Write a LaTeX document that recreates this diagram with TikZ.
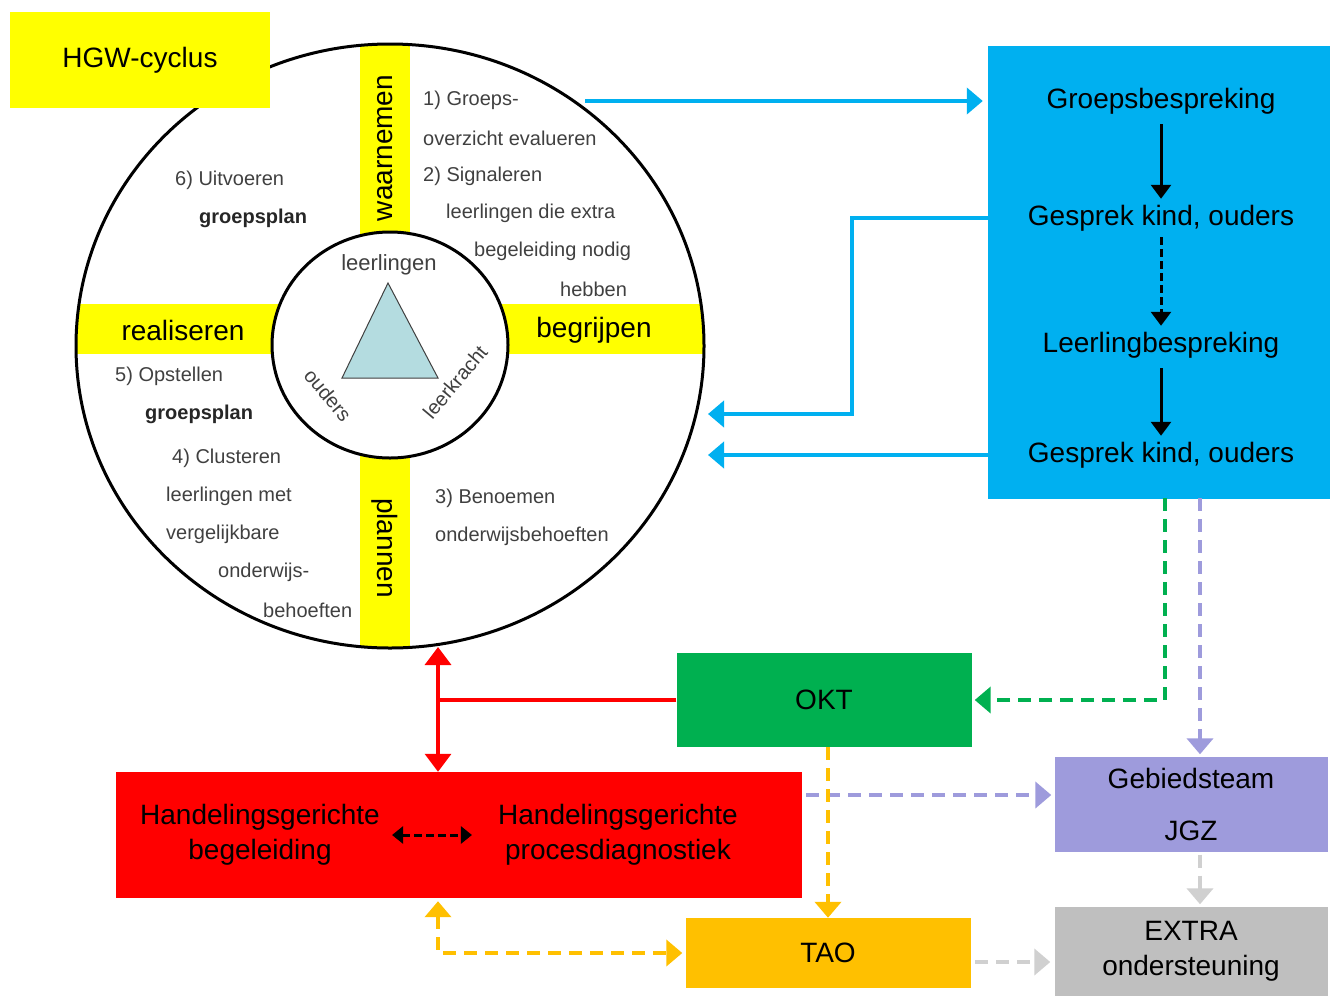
\documentclass[tikz,border=0pt]{standalone}
\usepackage{fontspec}
\setmainfont{Liberation Sans}
\usepackage{tikz}
\usepackage{xcolor}
\usetikzlibrary{arrows.meta, shapes.geometric, positioning}
\definecolor{HGWYellow}{HTML}{FFFF00}
\definecolor{HGWBlue}{HTML}{00B0F0}
\definecolor{HGWGreen}{HTML}{00B050}
\definecolor{HGWRed}{HTML}{FF0000}
\definecolor{HGWOrange}{HTML}{FFC000}
\definecolor{HGWLilac}{HTML}{9E9BDC}
\definecolor{HGWGrey}{HTML}{BFBFBF}
\definecolor{HGWLightGrey}{HTML}{D0D0D0}
\definecolor{HGWTriangle}{HTML}{B4DCE0}
\definecolor{HGWText}{HTML}{404040}

\begin{document}
\begin{tikzpicture}[x=1pt, y=-1pt,
    box/.style={rectangle, inner sep=0pt, align=center, font=\fontsize{28}{35}\selectfont},
    boxtext/.style={inner sep=6pt, align=center, font=\fontsize{28}{35}\selectfont},
    bandtext/.style={inner sep=0pt, font=\fontsize{28}{34}\selectfont},
    ringtext/.style={anchor=west, inner sep=0pt, text=HGWText, font=\fontsize{20}{24}\selectfont},
    bluearrow/.style={HGWBlue, line width=4pt, -{Triangle[length=16pt, width=26pt]}},
    stepline/.style={black, line width=3pt, -{Triangle[length=14pt, width=20pt]}},
    redline/.style={HGWRed, line width=3.5pt},
    dashflow/.style={line width=4pt, dash pattern=on 13pt off 8pt, -{Triangle[length=16pt, width=26pt]}}]

    \useasboundingbox (0,0) rectangle (1332,996);

    % HGW cycle
    \begin{scope}
        \clip (390,346) ellipse [x radius=314pt, y radius=302pt];
        \fill[HGWYellow] (360,0) rectangle (410,700);
        \fill[HGWYellow] (0,304) rectangle (720,354);
    \end{scope}
    \draw[line width=3pt] (390,346) ellipse [x radius=314pt, y radius=302pt];
    \filldraw[fill=white, line width=3pt] (390,345) ellipse [x radius=118pt, y radius=113pt];
    \filldraw[fill=HGWTriangle, draw=HGWText, line width=1pt] (388,283) -- (438,378) -- (342,378) -- cycle;

    \node[ringtext, anchor=center, font=\fontsize{22}{26}\selectfont] (pupils) at (389,265) {leerlingen};
    \node[ringtext, anchor=center, rotate=-50] (parents) at (328,395) {ouders};
    \node[ringtext, anchor=center, rotate=50] (teacher) at (455,382) {leerkracht};

    \node[bandtext, rotate=90] (observe) at (385,148) {waarnemen};
    \node[bandtext, rotate=-90] (plan) at (385,548) {plannen};
    \node[bandtext] (realise) at (183,330) {realiseren};
    \node[bandtext] (grasp) at (594,330) {begrijpen};

    \node[ringtext] (stepA) at (423,100) {1) Groeps-};
    \node[ringtext] (stepB) at (423,138) {overzicht evalueren};
    \node[ringtext] (stepC) at (423,176) {2) Signaleren};
    \node[ringtext] (stepD) at (446,213) {leerlingen die extra};
    \node[ringtext] (stepE) at (474,251) {begeleiding nodig};
    \node[ringtext] (stepF) at (560,289) {hebben};
    \node[ringtext] (stepG) at (435,498) {3) Benoemen};
    \node[ringtext] (stepH) at (435,536) {onderwijsbehoeften};
    \node[ringtext] (stepI) at (172,458) {4) Clusteren};
    \node[ringtext] (stepJ) at (166,496) {leerlingen met};
    \node[ringtext] (stepK) at (166,534) {vergelijkbare};
    \node[ringtext] (stepL) at (218,572) {onderwijs-};
    \node[ringtext] (stepM) at (263,610) {behoeften};
    \node[ringtext] (stepN) at (115,376) {5) Opstellen};
    \node[ringtext, text=black!85] (stepO) at (145,414) {\textbf{groepsplan}};
    \node[ringtext] (stepP) at (175,180) {6) Uitvoeren};
    \node[ringtext, text=black!85] (stepQ) at (199,218) {\textbf{groepsplan}};

    \node[box, fill=HGWYellow, minimum width=260pt, minimum height=96pt] (title) at (140,60) {HGW-cyclus};

    % talks
    \node[box, fill=HGWBlue, minimum width=342pt, minimum height=453pt] (talks) at (1159,272) {};
    \node[boxtext] (groeps) at (1161,101) {Groepsbespreking};
    \node[boxtext] (gesprekA) at (1161,218) {Gesprek kind, ouders};
    \node[boxtext] (leerbes) at (1161,345) {Leerlingbespreking};
    \node[boxtext] (gesprekB) at (1161,455) {Gesprek kind, ouders};
    \draw[stepline, shorten <=4pt] (groeps) -- (gesprekA);
    \draw[stepline, dash pattern=on 8pt off 4pt] (gesprekA) -- (leerbes);
    \draw[stepline, shorten <=4pt] (leerbes) -- (gesprekB);

    % support
    \node[box, fill=HGWGreen, minimum width=295pt, minimum height=94pt] (okt) at (824,700) {OKT};
    \node[box, fill=HGWRed, minimum width=686pt, minimum height=126pt] (hgw) at (459,835) {};
    \node[boxtext, inner sep=8pt] (hgbeg) at (260,835) {Handelingsgerichte\\begeleiding};
    \node[boxtext, inner sep=8pt] (hgpro) at (618,835) {Handelingsgerichte\\procesdiagnostiek};
    \node[box, fill=HGWOrange, minimum width=285pt, minimum height=70pt] (tao) at (828,953) {TAO};
    \node[box, fill=HGWLilac, minimum width=273pt, minimum height=95pt] (gebied) at (1191,804) {Gebiedsteam\\[17pt]JGZ};
    \node[box, fill=HGWGrey, minimum width=273pt, minimum height=89pt] (extra) at (1191,951) {EXTRA\\ondersteuning};

    \draw[black, line width=3pt, dash pattern=on 8pt off 4pt, {Triangle[length=11pt, width=17pt]}-{Triangle[length=11pt, width=17pt]}, shorten <=4pt, shorten >=18pt] (hgbeg.east) -- (hgpro.west);

    % connectors
    \coordinate (ringexit) at (585,101);
    \coordinate (bend) at (852,414);
    \coordinate (backA) at (708,414);
    \coordinate (backB) at (708,455);
    \coordinate (ringfoot) at (438,647);
    \coordinate (greendrop) at (1165,498);
    \coordinate (lilacdrop) at (1200,498);
    \coordinate (lilacrow) at (806,795);
    \coordinate (greyrow) at (972,962);

    \draw[bluearrow, shorten >=5pt] (ringexit) -- (ringexit -| talks.west);
    \draw[bluearrow] (gesprekA -| talks.west) -| (bend) -- (backA);
    \draw[bluearrow] (gesprekB -| talks.west) -- (backB);

    \draw[redline] (okt.west) -- (okt.west -| ringfoot);
    \draw[redline, {Triangle[length=18pt, width=26pt]}-{Triangle[length=18pt, width=26pt]}] (ringfoot) -- (ringfoot |- hgw.north);

    \draw[dashflow, HGWGreen, shorten >=3pt] (greendrop) |- (okt.east);
    \draw[dashflow, HGWLilac, shorten >=2pt] (lilacdrop) -- (lilacdrop |- gebied.north);
    \draw[dashflow, HGWLilac, shorten >=3pt] (lilacrow) -- (lilacrow -| gebied.west);
    \draw[dashflow, HGWOrange] (okt.south -| tao.north) -- (tao.north);
    \draw[dashflow, HGWOrange, {Triangle[length=16pt, width=26pt]}-{Triangle[length=16pt, width=26pt]}, shorten <=3pt, shorten >=3pt] (ringfoot |- hgw.south) |- (tao.west);
    \draw[dashflow, HGWLightGrey, shorten <=3pt, shorten >=2pt] (gebied.south -| lilacdrop) -- (lilacdrop |- extra.north);
    \draw[dashflow, HGWLightGrey, shorten <=3pt, shorten >=4pt] (greyrow) -- (greyrow -| extra.west);

\end{tikzpicture}
\end{document}
